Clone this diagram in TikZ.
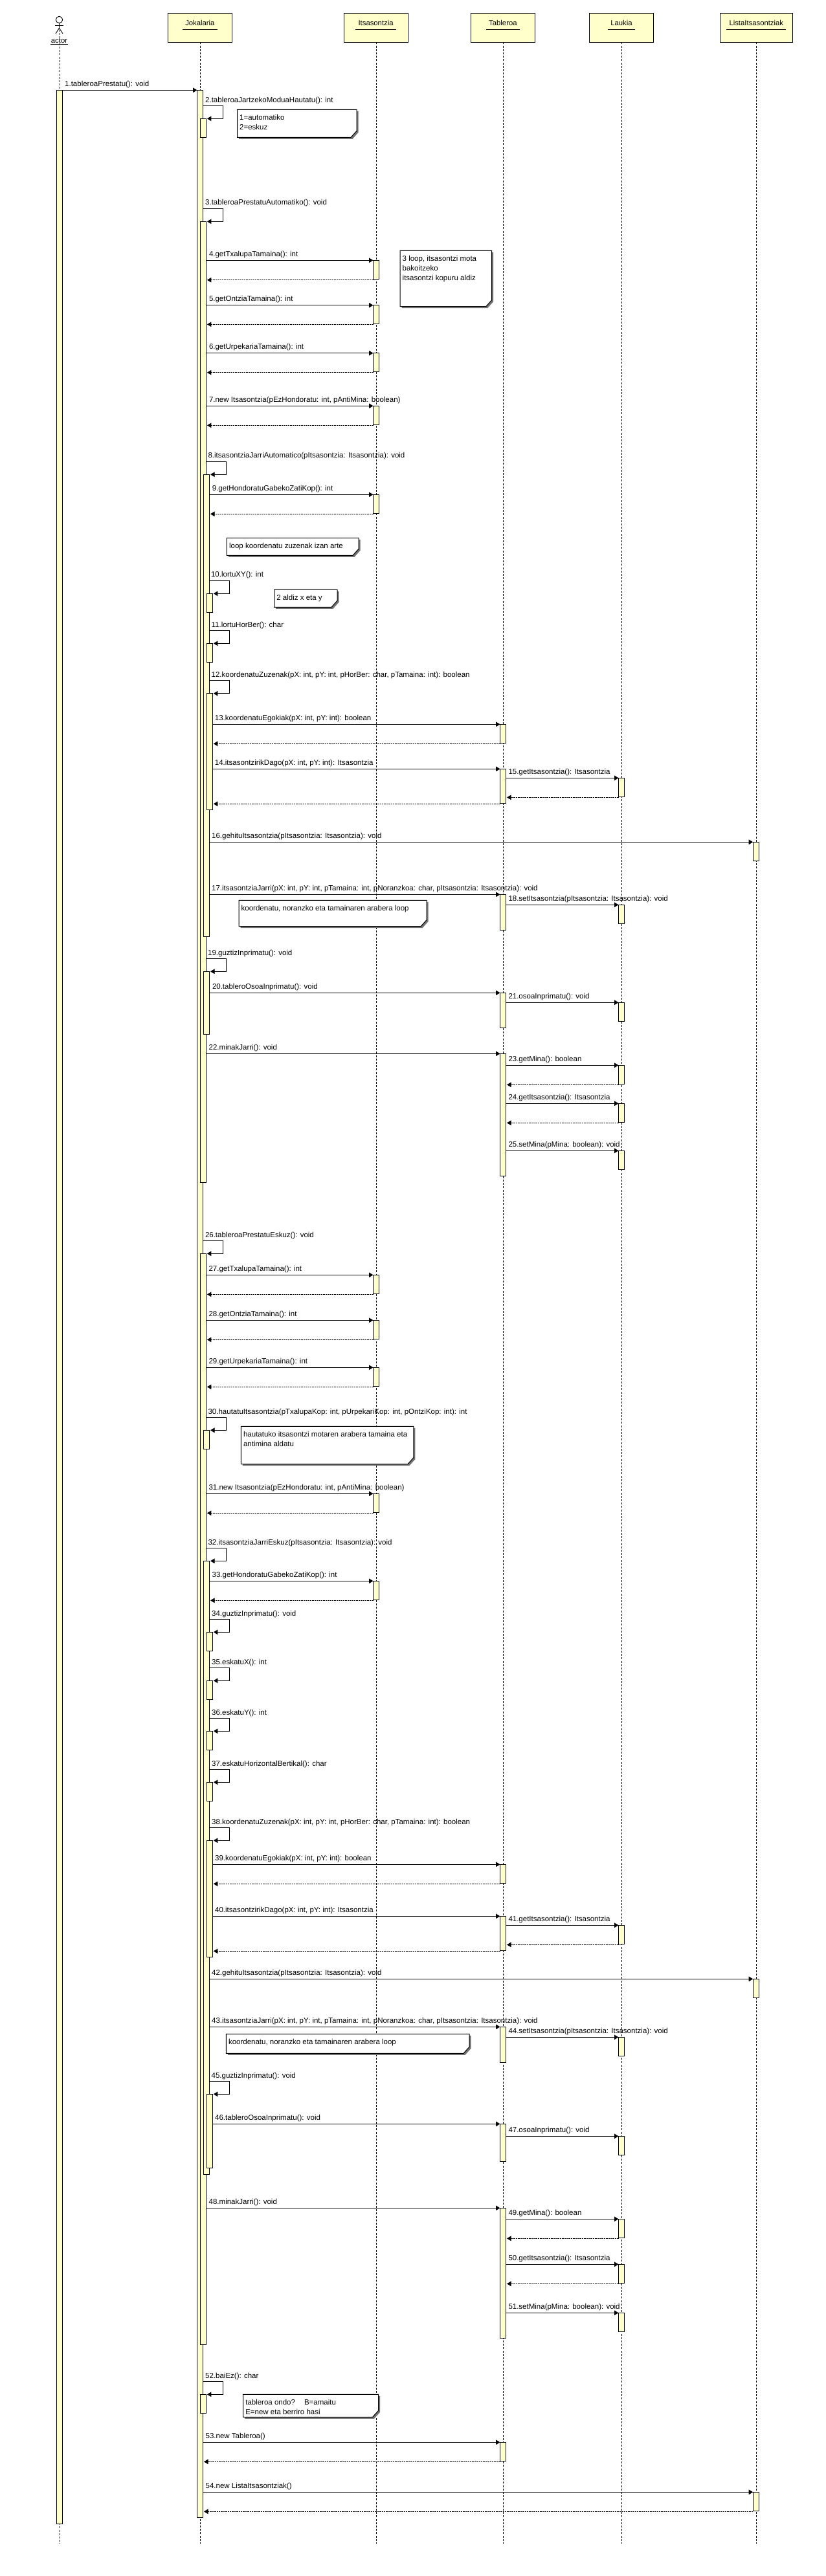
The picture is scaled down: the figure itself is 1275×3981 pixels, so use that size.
\documentclass[tikz,border=0pt]{standalone}
\usepackage{fontspec}
\setmainfont{Liberation Sans}
\usetikzlibrary{arrows.meta}
\definecolor{umlyellow}{HTML}{FFFFCC}
\tikzset{
  headbox/.style={draw=black,fill=umlyellow,line width=1pt,minimum width=#1,minimum height=45pt,anchor=north,inner sep=0pt,outer sep=0pt},
  headtitle/.style={anchor=base,inner xsep=4pt,inner ysep=0pt,font=\fontsize{11.3}{14}\selectfont},
  headline/.style={line width=0.9pt},
  life/.style={line width=0.7pt,dash pattern=on 3pt off 2.2pt},
  actbar/.style={draw=black,fill=umlyellow,line width=0.8pt,minimum width=9pt,inner sep=0pt,outer sep=0pt,anchor=north},
  msgline/.style={line width=1pt,-{Triangle[length=6.5pt,width=7.5pt]}},
  retline/.style={line width=0.9pt,dash pattern=on 2.4pt off 1pt,-{Triangle[length=6.5pt,width=7.5pt]},shorten >=1.5pt},
  msglabel/.style={anchor=base west,inner sep=0pt,font=\fontsize{11.5}{15}\selectfont},
  notetext/.style={anchor=north west,inner sep=0pt,align=left,font=\fontsize{11.5}{15}\selectfont},
  notefill/.style={draw=black,fill=white,line width=1pt},
  noteshadow/.style={fill=black!55},
  stick/.style={line width=0.9pt}
}
% name, x centre, y top, y bottom
\newcommand{\actbox}[4]{\node[actbar,minimum height={(#4-#3)*1pt}] (#1) at (#2,#3) {};}
% src bar, target bar
\newcommand{\callmsg}[2]{\draw[msgline] (#1.east |- #2.north west) -- (#2.north west);}
\newcommand{\retmsg}[2]{\coordinate (r#2) at ([yshift=-1pt]#2.south west);\draw[retline] (r#2) -- (#1.east |- r#2);}
% src bar, target bar, right x, top y
\newcommand{\selfmsg}[4]{\draw[msgline,shorten >=1.5pt] (#1.east |- 0,#4) -- (#3,#4) |- (#2.north east);}
% number, x, y centre, text
\newcommand{\lab}[4]{\node[msglabel] (l#1) at (#2,{#3+4}) {#4};}
% name x1 y1 x2 y2 text
\newcommand{\notebox}[6]{%
  \fill[noteshadow] ({#2+2.5},{#3+2.5}) -- ({#4+2.5},{#3+2.5}) -- ({#4+2.5},{#5-7.5}) -- ({#4-6.5},{#5+2.5}) -- ({#2+2.5},{#5+2.5}) -- cycle;
  \draw[notefill] (#2,#3) -- (#4,#3) -- (#4,{#5-10}) -- ({#4-9},#5) -- (#2,#5) -- cycle;
  \node[notetext] (#1) at ({#2+3.5},{#3+5.5}) {#6};}
\begin{document}
\begin{tikzpicture}[x=1pt,y=-1pt]
\useasboundingbox (0,0) rectangle (1275,3981);
\fill[white] (0,0) rectangle (1275,3981);
% heads
\node[headbox=99.5pt] (hJ) at (308.9,20.3) {};
\node[headbox=99pt] (hI) at (580.6,20.3) {};
\node[headbox=99pt] (hT) at (776.9,20.3) {};
\node[headbox=99pt] (hL) at (959.9,20.3) {};
\node[headbox=112.6pt] (hZ) at (1168.3,20.3) {};
\node[headtitle] (tJ) at (308.9,39) {Jokalaria};
\node[headtitle] (tI) at (580.6,39) {Itsasontzia};
\node[headtitle] (tT) at (776.9,39) {Tableroa};
\node[headtitle] (tL) at (959.9,39) {Laukia};
\node[headtitle] (tZ) at (1168.3,39) {ListaItsasontziak};
\foreach \t in {tJ,tI,tT,tL,tZ} {\draw[headline] (\t.west |- 0,45.3) -- (\t.east |- 0,45.3);}
% actor
\node[circle,draw=black,line width=0.9pt,minimum size=10.4pt,inner sep=0pt,outer sep=0pt] (head) at (91.5,30.5) {};
\coordinate (hip) at (91.5,43.3);
\coordinate (armL) at (85,39.3);
\coordinate (armR) at (98,39.3);
\coordinate (legL) at (86,52);
\coordinate (legR) at (97,52);
\draw[stick] (head.south) -- (hip);
\draw[stick] (armL) -- (armR);
\draw[stick] (legL) -- (hip) -- (legR);
\node[headtitle,inner xsep=1pt] (tA) at (91.5,66) {actor};
\draw[headline] (78,68.3) -- (105,68.3);
% lifelines
\coordinate (aTop) at (92.4,46);
\coordinate (aEnd) at (92.4,3930.7);
\coordinate (jEnd) at (309.4,3930.7);
\coordinate (iEnd) at (581,3930.7);
\coordinate (tEnd) at (777,3930.7);
\coordinate (lEnd) at (960.3,3930.7);
\coordinate (zEnd) at (1168,3930.7);
\draw[life] (aTop) -- (aEnd);
\draw[life] (hJ.south -| jEnd) -- (jEnd);
\draw[life] (hI.south -| iEnd) -- (iEnd);
\draw[life] (hT.south -| tEnd) -- (tEnd);
\draw[life] (hL.south -| lEnd) -- (lEnd);
\draw[life] (hZ.south -| zEnd) -- (zEnd);
% activation bars
\actbox{bA}{92}{139.3}{3900}
\actbox{bJ}{309}{139.3}{3890}
\actbox{a2}{313.9}{183.3}{212.3}
\actbox{a3}{313.9}{342.3}{1827.3}
\actbox{a26}{313.9}{1937.3}{3623.3}
\actbox{a52}{313.9}{3700.3}{3729.3}
\actbox{a8}{319}{733.3}{1447.3}
\actbox{a19}{319}{1501.3}{1598.3}
\actbox{a30}{319}{2210.3}{2239.3}
\actbox{a32}{319}{2412.3}{3360.3}
\actbox{a10}{323.8}{917.3}{946.3}
\actbox{a11}{323.8}{994.3}{1023.3}
\actbox{a12}{323.8}{1071.7}{1251.3}
\actbox{a34}{323.8}{2522.3}{2551.3}
\actbox{a35}{323.8}{2597.3}{2626.3}
\actbox{a36}{323.8}{2675.3}{2704.3}
\actbox{a37}{323.8}{2754.3}{2783.3}
\actbox{a38}{323.8}{2844.3}{3024.3}
\actbox{a45}{323.8}{3236.3}{3350.3}
% Itsasontzia
\actbox{a4}{581}{402.3}{431.7}
\actbox{a5}{581}{471.7}{500.3}
\actbox{a6}{581}{545.7}{574.7}
\actbox{a7}{581}{627.3}{656.3}
\actbox{a9}{581}{764.3}{793.3}
\actbox{a27}{581}{1970.3}{1999.3}
\actbox{a28}{581}{2040.3}{2069.3}
\actbox{a29}{581}{2113.3}{2142.3}
\actbox{a31}{581}{2308.3}{2337.3}
\actbox{a33}{581}{2443.3}{2472.3}
% Tableroa
\actbox{a13}{777}{1119.3}{1148.3}
\actbox{a14}{777}{1188.3}{1241.3}
\actbox{a17}{777}{1382.3}{1437.3}
\actbox{a20}{777}{1534.3}{1588.3}
\actbox{a22}{777}{1628.3}{1817.3}
\actbox{a39}{777}{2881.3}{2910.3}
\actbox{a40}{777}{2961.3}{3014.3}
\actbox{a43}{777}{3132.3}{3187.3}
\actbox{a46}{777}{3282.3}{3340.7}
\actbox{a48}{777}{3412.3}{3613.3}
\actbox{a53}{777}{3774.3}{3803.3}
% Laukia
\actbox{a15}{960}{1202.3}{1231.3}
\actbox{a18}{960}{1398.3}{1427.3}
\actbox{a21}{960}{1549.3}{1578.3}
\actbox{a23}{960}{1646.3}{1675.3}
\actbox{a24}{960}{1705.3}{1734.3}
\actbox{a25}{960}{1778.3}{1807.3}
\actbox{a41}{960}{2975.3}{3004.3}
\actbox{a44}{960}{3148.3}{3177.3}
\actbox{a47}{960}{3301.3}{3330.3}
\actbox{a49}{960}{3429.3}{3458.3}
\actbox{a50}{960}{3499.3}{3528.3}
\actbox{a51}{960}{3574.3}{3603.3}
% ListaItsasontziak
\actbox{a16}{1167.7}{1301.3}{1330.3}
\actbox{a42}{1167.7}{3058.3}{3087.3}
\actbox{a54}{1167.7}{3851.3}{3880.3}
% messages
\callmsg{bA}{bJ}
\selfmsg{bJ}{a2}{344.6}{163.3}
\selfmsg{bJ}{a3}{344.6}{322.3}
\callmsg{a3}{a4}\retmsg{a3}{a4}
\callmsg{a3}{a5}\retmsg{a3}{a5}
\callmsg{a3}{a6}\retmsg{a3}{a6}
\callmsg{a3}{a7}\retmsg{a3}{a7}
\selfmsg{a3}{a8}{349.6}{713.3}
\callmsg{a8}{a9}\retmsg{a8}{a9}
\selfmsg{a8}{a10}{354.6}{897.3}
\selfmsg{a8}{a11}{354.6}{974.3}
\selfmsg{a8}{a12}{354.6}{1051.3}
\callmsg{a12}{a13}\retmsg{a12}{a13}
\callmsg{a12}{a14}\retmsg{a12}{a14}
\callmsg{a14}{a15}\retmsg{a14}{a15}
\callmsg{a8}{a16}
\callmsg{a8}{a17}
\callmsg{a17}{a18}
\selfmsg{a3}{a19}{349.3}{1481.3}
\callmsg{a19}{a20}
\callmsg{a20}{a21}
\callmsg{a3}{a22}
\callmsg{a22}{a23}\retmsg{a22}{a23}
\callmsg{a22}{a24}\retmsg{a22}{a24}
\callmsg{a22}{a25}
\selfmsg{bJ}{a26}{344.4}{1917.3}
\callmsg{a26}{a27}\retmsg{a26}{a27}
\callmsg{a26}{a28}\retmsg{a26}{a28}
\callmsg{a26}{a29}\retmsg{a26}{a29}
\selfmsg{a26}{a30}{349.5}{2190.3}
\callmsg{a26}{a31}\retmsg{a26}{a31}
\selfmsg{a26}{a32}{349.5}{2392.3}
\callmsg{a32}{a33}\retmsg{a32}{a33}
\selfmsg{a32}{a34}{354.6}{2502.3}
\selfmsg{a32}{a35}{354.6}{2577.3}
\selfmsg{a32}{a36}{354.6}{2655.3}
\selfmsg{a32}{a37}{354.6}{2734.3}
\selfmsg{a32}{a38}{354.6}{2824.3}
\callmsg{a38}{a39}\retmsg{a38}{a39}
\callmsg{a38}{a40}\retmsg{a38}{a40}
\callmsg{a40}{a41}\retmsg{a40}{a41}
\callmsg{a32}{a42}
\callmsg{a32}{a43}
\callmsg{a43}{a44}
\selfmsg{a32}{a45}{354.6}{3216.3}
\callmsg{a45}{a46}
\callmsg{a46}{a47}
\callmsg{a26}{a48}
\callmsg{a48}{a49}\retmsg{a48}{a49}
\callmsg{a48}{a50}\retmsg{a48}{a50}
\callmsg{a48}{a51}
\selfmsg{bJ}{a52}{344}{3680.3}
\callmsg{bJ}{a53}\retmsg{bJ}{a53}
\callmsg{bJ}{a54}\retmsg{bJ}{a54}
% notes
\notebox{n1}{366.5}{169.3}{551}{212.3}{\strut 1=automatiko\\2=eskuz}
\notebox{n2}{618}{387.3}{759.7}{473.7}{\strut 3 loop, itsasontzi mota\\bakoitzeko\\itsasontzi kopuru aldiz}
\notebox{n3}{350.4}{831.3}{554}{858.3}{\strut loop koordenatu zuzenak izan arte}
\notebox{n4}{423.7}{911.3}{521}{938.3}{\strut 2 aldiz x eta y}
\notebox{n5}{369}{1391.3}{659}{1431.7}{\strut koordenatu, noranzko eta tamainaren arabera loop}
\notebox{n6}{372.4}{2204.3}{638.8}{2262.7}{\strut hautatuko itsasontzi motaren arabera tamaina eta\\antimina aldatu}
\notebox{n7}{349.3}{3143.3}{725}{3173.3}{\strut koordenatu, noranzko eta tamainaren arabera loop}
\notebox{n8}{375.6}{3700.3}{584.6}{3735.3}{\strut tableroa ondo?\hspace{14pt}B=amaitu\\E=new eta berriro hasi}
% labels
\lab{1}{100}{129}{1.tableroaPrestatu(): void}
\lab{2}{317}{154}{2.tableroaJartzekoModuaHautatu(): int}
\lab{3}{317}{312.7}{3.tableroaPrestatuAutomatiko(): void}
\lab{4}{322.8}{392}{4.getTxalupaTamaina(): int}
\lab{5}{322.8}{461}{5.getOntziaTamaina(): int}
\lab{6}{322.8}{535}{6.getUrpekariaTamaina(): int}
\lab{7}{322.8}{617}{7.new Itsasontzia(pEzHondoratu: int, pAntiMina: boolean)}
\lab{8}{321.4}{703.7}{8.itsasontziaJarriAutomatico(pItsasontzia: Itsasontzia): void}
\lab{9}{327.7}{754}{9.getHondoratuGabekoZatiKop(): int}
\lab{10}{325.9}{887.7}{10.lortuXY(): int}
\lab{11}{326.5}{965}{11.lortuHorBer(): char}
\lab{12}{326.5}{1042.3}{12.koordenatuZuzenak(pX: int, pY: int, pHorBer: char, pTamaina: int): boolean}
\lab{13}{331.7}{1109}{13.koordenatuEgokiak(pX: int, pY: int): boolean}
\lab{14}{331.7}{1178}{14.itsasontzirikDago(pX: int, pY: int): Itsasontzia}
\lab{15}{785.3}{1192}{15.getItsasontzia(): Itsasontzia}
\lab{16}{327}{1291}{16.gehituItsasontzia(pItsasontzia: Itsasontzia): void}
\lab{17}{327}{1372}{17.itsasontziaJarri(pX: int, pY: int, pTamaina: int, pNoranzkoa: char, pItsasontzia: Itsasontzia): void}
\lab{18}{785.3}{1388}{18.setItsasontzia(pItsasontzia: Itsasontzia): void}
\lab{19}{321}{1472}{19.guztizInprimatu(): void}
\lab{20}{327.8}{1524}{20.tableroOsoaInprimatu(): void}
\lab{21}{785.3}{1539}{21.osoaInprimatu(): void}
\lab{22}{322.5}{1618}{22.minakJarri(): void}
\lab{23}{785.3}{1636}{23.getMina(): boolean}
\lab{24}{785.3}{1695}{24.getItsasontzia(): Itsasontzia}
\lab{25}{785.3}{1768}{25.setMina(pMina: boolean): void}
\lab{26}{316.8}{1908}{26.tableroaPrestatuEskuz(): void}
\lab{27}{322.4}{1960}{27.getTxalupaTamaina(): int}
\lab{28}{322.4}{2030}{28.getOntziaTamaina(): int}
\lab{29}{322.4}{2103}{29.getUrpekariaTamaina(): int}
\lab{30}{321.4}{2181}{30.hautatuItsasontzia(pTxalupaKop: int, pUrpekariKop: int, pOntziKop: int): int}
\lab{31}{322.4}{2298}{31.new Itsasontzia(pEzHondoratu: int, pAntiMina: boolean)}
\lab{32}{321.4}{2383}{32.itsasontziaJarriEskuz(pItsasontzia: Itsasontzia): void}
\lab{33}{327.5}{2433}{33.getHondoratuGabekoZatiKop(): int}
\lab{34}{327}{2493}{34.guztizInprimatu(): void}
\lab{35}{327}{2568}{35.eskatuX(): int}
\lab{36}{327}{2646}{36.eskatuY(): int}
\lab{37}{327}{2725}{37.eskatuHorizontalBertikal(): char}
\lab{38}{327}{2815}{38.koordenatuZuzenak(pX: int, pY: int, pHorBer: char, pTamaina: int): boolean}
\lab{39}{332}{2871}{39.koordenatuEgokiak(pX: int, pY: int): boolean}
\lab{40}{332}{2951}{40.itsasontzirikDago(pX: int, pY: int): Itsasontzia}
\lab{41}{785.3}{2965}{41.getItsasontzia(): Itsasontzia}
\lab{42}{327}{3048}{42.gehituItsasontzia(pItsasontzia: Itsasontzia): void}
\lab{43}{327}{3122}{43.itsasontziaJarri(pX: int, pY: int, pTamaina: int, pNoranzkoa: char, pItsasontzia: Itsasontzia): void}
\lab{44}{785.3}{3138}{44.setItsasontzia(pItsasontzia: Itsasontzia): void}
\lab{45}{326.5}{3207}{45.guztizInprimatu(): void}
\lab{46}{332}{3272}{46.tableroOsoaInprimatu(): void}
\lab{47}{785.3}{3291}{47.osoaInprimatu(): void}
\lab{48}{322.5}{3402}{48.minakJarri(): void}
\lab{49}{785.3}{3419}{49.getMina(): boolean}
\lab{50}{785.3}{3489}{50.getItsasontzia(): Itsasontzia}
\lab{51}{785.3}{3564}{51.setMina(pMina: boolean): void}
\lab{52}{317}{3671}{52.baiEz(): char}
\lab{53}{317.5}{3764}{53.new Tableroa()}
\lab{54}{317.5}{3841}{54.new ListaItsasontziak()}
\end{tikzpicture}
\end{document}
